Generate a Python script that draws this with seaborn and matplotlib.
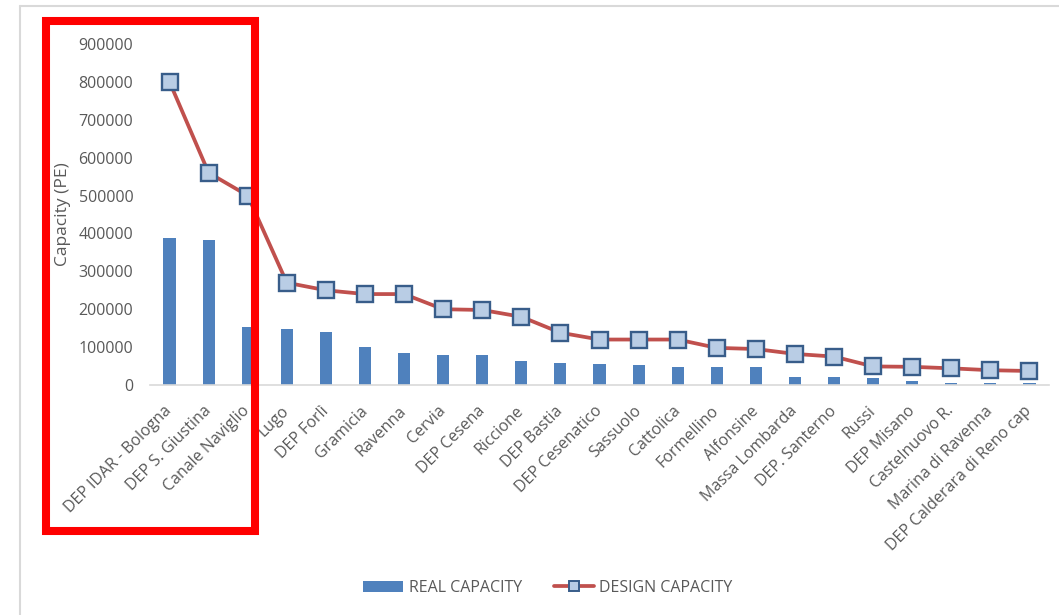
import numpy as np
import pandas as pd
import matplotlib
matplotlib.use("Agg")
import matplotlib.pyplot as plt
import seaborn as sns
from matplotlib.patches import Rectangle, Patch
from matplotlib.lines import Line2D
from matplotlib.ticker import FuncFormatter

# Treatment plants, ordered by design capacity
plants = [
    "DEP IDAR - Bologna", "DEP S. Giustina", "Canale Naviglio", "Lugo", "DEP Forlì",
    "Gramicia", "Ravenna", "Cervia", "DEP Cesena", "Riccione", "DEP Bastia",
    "DEP Cesenatico", "Sassuolo", "Cattolica", "Formellino", "Alfonsine",
    "Massa Lombarda", "DEP. Santerno", "Russi", "DEP Misano", "Castelnuovo R.",
    "Marina di Ravenna", "DEP Calderara di Reno cap",
]
# Population equivalents actually served
real_capacity = [
    387000, 383000, 154000, 147000, 139000, 99000, 84000, 78000, 78000, 63000,
    57000, 55000, 53000, 47000, 47000, 47000, 21000, 21000, 18000, 10500,
    5000, 5000, 5000,
]
# Nominal design capacity
design_capacity = [
    800000, 560000, 500000, 270000, 250000, 240000, 240000, 200000, 198000, 180000,
    138000, 120000, 120000, 120000, 98000, 95000, 82000, 75000, 49000, 48000,
    44000, 39000, 37000,
]
y_ticks = [0, 100000, 200000, 300000, 400000, 500000, 600000, 700000, 800000, 900000]

BAR_BLUE = "#4F81BD"
LINE_RED = "#C0504D"
MARK_FACE = "#B9CDE5"
MARK_EDGE = "#385D8A"
TEXT_GREY = "#595959"
AXIS_GREY = "#D9D9D9"
FS = 11.5

sns.set_theme(style="white")
plt.rcParams["font.family"] = ["Open Sans", "DejaVu Sans"]

df = pd.DataFrame({"plant": plants, "real": real_capacity, "design": design_capacity})
df["pos"] = np.arange(len(df))

W, H = 1059, 615
fig = plt.figure(figsize=(W / 100, H / 100), dpi=100)
ax = fig.add_axes([150 / W, 1 - 385 / H, 899 / W, 341 / H])

sns.barplot(data=df, x="plant", y="real", color=BAR_BLUE, saturation=1,
            width=0.31, linewidth=0, ax=ax)
sns.lineplot(data=df, x="pos", y="design", color=LINE_RED, linewidth=2.7,
             marker="s", markersize=11, markerfacecolor=MARK_FACE,
             markeredgecolor=MARK_EDGE, markeredgewidth=1.7, ax=ax, zorder=3)

ax.set_xlim(-0.5, len(plants) - 0.5)
ax.set_ylim(0, y_ticks[-1])
ax.set_yticks(y_ticks)
ax.yaxis.set_major_formatter(FuncFormatter(lambda v, p: f"{int(v)}"))
ax.set_xticks(df["pos"])
ax.set_xticklabels(plants, rotation=45, ha="right", va="center",
                   rotation_mode="anchor")
ax.tick_params(axis="y", length=0, pad=12, labelsize=FS, labelcolor=TEXT_GREY)
ax.tick_params(axis="x", length=0, pad=17, labelsize=FS, labelcolor=TEXT_GREY)

ax.set_xlabel("")
ax.set_ylabel("Capacity (PE)", fontsize=12.5, color=TEXT_GREY)
ax.yaxis.set_label_coords(-0.088, 0.5)

for side in ("top", "right", "left"):
    ax.spines[side].set_visible(False)
ax.spines["bottom"].set_color(AXIS_GREY)
ax.spines["bottom"].set_linewidth(1.2)
ax.grid(False)

handles = [
    Patch(facecolor=BAR_BLUE, edgecolor="none", label="REAL CAPACITY"),
    Line2D([], [], color=LINE_RED, linewidth=2.7, marker="s", markersize=7,
           markerfacecolor=MARK_FACE, markeredgecolor=MARK_EDGE,
           markeredgewidth=1.4, label="DESIGN CAPACITY"),
]
leg = fig.legend(handles=handles, loc="center", bbox_to_anchor=(548 / W, 1 - 588 / H),
                 ncol=2, frameon=False, fontsize=FS, handlelength=2.5,
                 columnspacing=2.0, handletextpad=0.35)
for t in leg.get_texts():
    t.set_color(TEXT_GREY)

# Chart area frame (top and left edges)
fig.add_artist(Line2D([20 / W, 1], [1 - 5.5 / H, 1 - 5.5 / H], color=AXIS_GREY,
                      linewidth=1.5, transform=fig.transFigure))
fig.add_artist(Line2D([20 / W, 20 / W], [0, 1 - 5.5 / H], color=AXIS_GREY,
                      linewidth=1.5, transform=fig.transFigure))

# Highlight box around the three largest plants
fig.add_artist(Rectangle((45.5 / W, 1 - 530.5 / H), 209.5 / W, 509.5 / H,
                         fill=False, edgecolor="#FF0000", linewidth=5.8,
                         transform=fig.transFigure, zorder=10))

fig.savefig("out.png", dpi=100)
